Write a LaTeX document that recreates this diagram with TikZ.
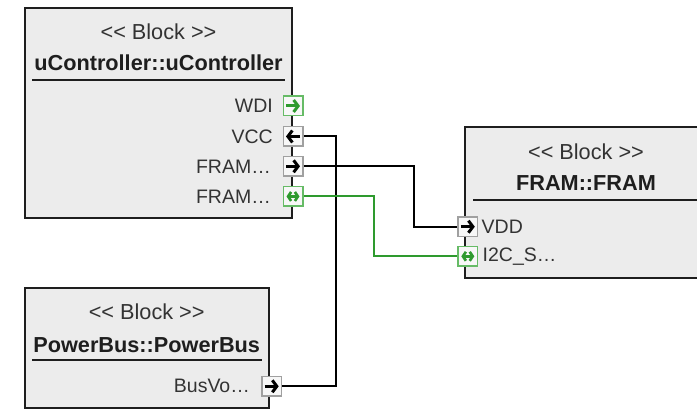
\documentclass[tikz,border=0pt]{standalone}
\usepackage{fontspec}
\setmainfont{Liberation Sans}
\usetikzlibrary{arrows.meta,calc}
\definecolor{blockfill}{HTML}{ECECEC}
\definecolor{blockdraw}{HTML}{1E1E1E}
\definecolor{txt}{HTML}{333333}
\definecolor{portgray}{HTML}{A0A0A0}
\definecolor{portgreen}{HTML}{66BB66}
\definecolor{wiregreen}{HTML}{2E9A2E}
\newcommand{\stereotext}{{<}{<} Block {>}{>}}
\tikzset{
  blockbox/.style={draw=blockdraw, fill=blockfill, line width=2pt},
  sepline/.style={draw=blockdraw, line width=1.6pt},
  stereo/.style={text=txt, font=\fontsize{21.7}{26}\selectfont, inner sep=0pt},
  btitle/.style={text=blockdraw, font=\fontsize{21.7}{26}\selectfont\bfseries, inner sep=0pt},
  plabel/.style={text=txt, font=\fontsize{19.5}{23}\selectfont, inner sep=0pt},
  portbox/.style={draw=portgray, fill=white!97!black, line width=1.5pt, minimum size=19.5pt, inner sep=0pt},
  gportbox/.style={portbox, draw=portgreen},
  parrow/.style={line width=3pt, -{Straight Barb[length=4.5pt,width=12pt]}},
  biarrow/.style={line width=2.7pt, {Straight Barb[length=3pt,width=9pt]}-{Straight Barb[length=3pt,width=9pt]}},
  wire/.style={line width=2pt, draw=black},
  gwire/.style={line width=2pt, draw=wiregreen},
}
\begin{document}
\begin{tikzpicture}[x=1pt,y=-1pt]
\useasboundingbox (0,0) rectangle (697,411);
\clip (0,0) rectangle (697,411);
% uController block
\path[blockbox] (25,8) rectangle (292,218);
\node[stereo] (uc1) at (158.5,32) {\stereotext};
\node[btitle] (uc2) at (158.5,63) {uController::uController};
\draw[sepline] (32,80) -- (285,80);
% FRAM block
\path[blockbox] (465,127.5) rectangle (707,278);
\node[stereo] (fr1) at (586,152) {\stereotext};
\node[btitle] (fr2) at (586,183) {FRAM::FRAM};
\draw[sepline] (473,200) -- (700,200);
% PowerBus block
\path[blockbox] (25,288.5) rectangle (268.5,408.5);
\node[stereo] (pb1) at (146.7,311.7) {\stereotext};
\node[btitle] (pb2) at (146.7,345) {PowerBus::PowerBus};
\draw[sepline] (32,360) -- (262,360);
% uController ports
\node[gportbox] (wdi) at (293,106) {};
\node[portbox] (vcc) at (293,136.5) {};
\node[portbox] (fram1) at (293,166.3) {};
\node[gportbox] (fram2) at (293,196.5) {};
\node[plabel, anchor=east] (lwdi) at (273,106) {WDI};
\node[plabel, anchor=east] (lvcc) at (273,136.5) {VCC};
\node[plabel, anchor=east] (lfram1) at (271,166.3) {FRAM…};
\node[plabel, anchor=east] (lfram2) at (271,196.5) {FRAM…};
\draw[parrow, wiregreen] ([xshift=-7pt]wdi.center) -- ([xshift=7pt]wdi.center);
\draw[parrow] ([xshift=7pt]vcc.center) -- ([xshift=-7pt]vcc.center);
\draw[parrow] ([xshift=-7pt]fram1.center) -- ([xshift=7pt]fram1.center);
\draw[biarrow, wiregreen] ([xshift=-6.5pt]fram2.center) -- ([xshift=6.5pt]fram2.center);
% FRAM ports
\node[portbox] (vdd) at (467.8,226.7) {};
\node[gportbox] (i2c) at (467.8,256.3) {};
\node[plabel, anchor=west] (lvdd) at (481.5,226.7) {VDD};
\node[plabel, anchor=west] (li2c) at (482.5,256.3) {I2C\_S…};
\draw[parrow] ([xshift=-7pt]vdd.center) -- ([xshift=7pt]vdd.center);
\draw[biarrow, wiregreen] ([xshift=-6.5pt]i2c.center) -- ([xshift=6.5pt]i2c.center);
% PowerBus port
\node[portbox] (busvo) at (271.7,386.3) {};
\node[plabel, anchor=east] (lbusvo) at (250,386.3) {BusVo…};
\draw[parrow] ([xshift=-7pt]busvo.center) -- ([xshift=7pt]busvo.center);
% wires
\draw[wire] (vcc.east) -- ++(32.5,0) |- (busvo.east);
\draw[wire] (fram1.east) -- ++(110.5,0) |- (vdd.west);
\draw[gwire] (fram2.east) -- ++(70.5,0) |- (i2c.west);
\end{tikzpicture}
\end{document}
